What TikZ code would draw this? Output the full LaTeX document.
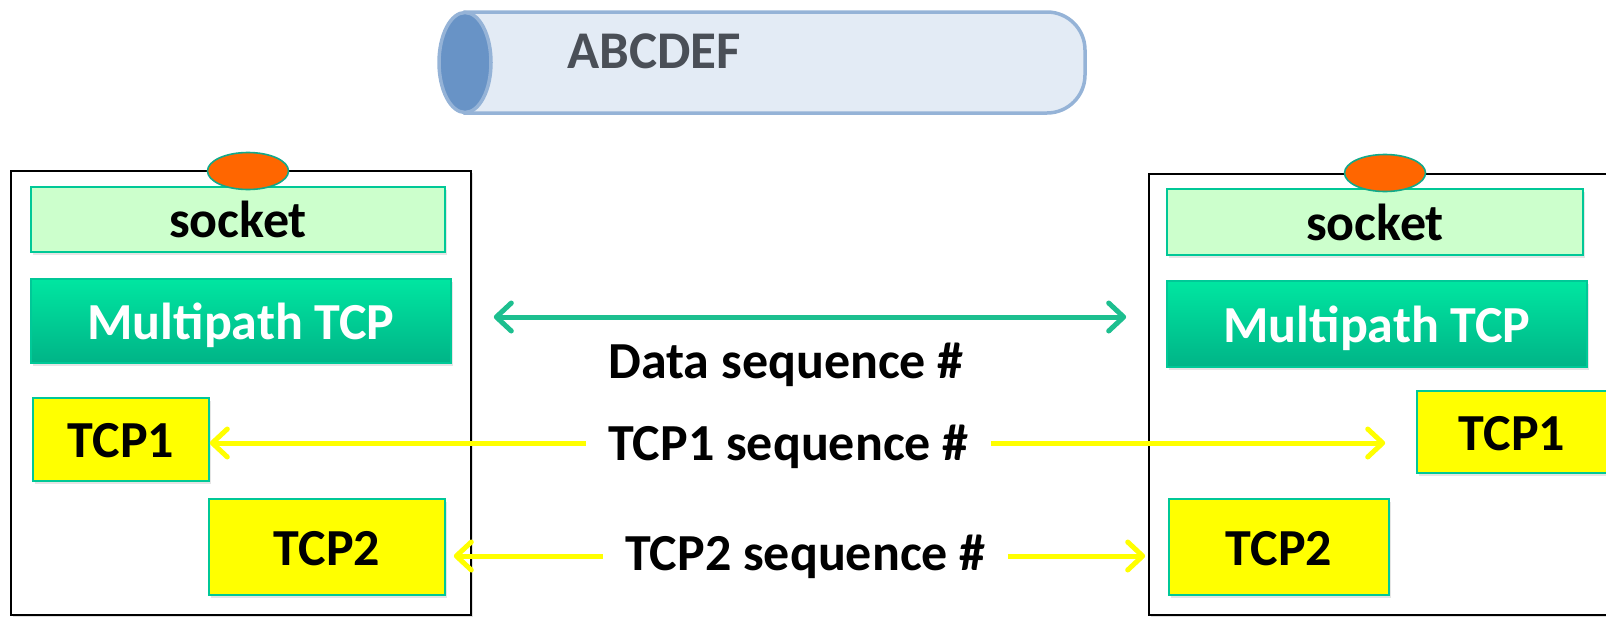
\documentclass[tikz,border=0pt]{standalone}
\usepackage{fontspec}
\setmainfont{Carlito}
\usetikzlibrary{arrows.meta,shadows,shapes.geometric}
\definecolor{tealB}{HTML}{00C897}
\definecolor{sockFill}{HTML}{CCFFCC}
\definecolor{mpTop}{HTML}{00E6A1}
\definecolor{mpBot}{HTML}{00B487}
\definecolor{yel}{HTML}{FFFF00}
\definecolor{portO}{HTML}{FF6600}
\definecolor{portB}{HTML}{12A98A}
\definecolor{grn}{HTML}{1DBF8F}
\definecolor{cylBody}{HTML}{E3EBF5}
\definecolor{cylLine}{HTML}{95B3D7}
\definecolor{cylFace}{HTML}{6893C6}
\definecolor{abcCol}{HTML}{4A4F57}
\begin{document}
\begin{tikzpicture}[x=1pt,y=-1pt,
  bigfont/.style={font=\fontsize{52}{60}\selectfont\bfseries},
  hostbox/.style={rectangle, draw=black, line width=1.8pt, fill=white, inner sep=0pt,
    drop shadow={shadow xshift=2pt,shadow yshift=-2pt,opacity=0.25}},
  stackbox/.style={rectangle, draw=tealB, line width=1.6pt, inner sep=0pt,
    text height=36pt, text depth=0pt, bigfont,
    drop shadow={shadow xshift=2pt,shadow yshift=-3pt,opacity=0.2}},
  sockbox/.style={stackbox, fill=sockFill},
  mpbox/.style={stackbox, top color=mpTop, bottom color=mpBot, text=white},
  tcpbox/.style={stackbox, fill=yel},
  portdot/.style={ellipse, draw=portB, line width=1.6pt, fill=portO, inner sep=0pt},
  seqlbl/.style={bigfont, inner ysep=0pt, inner xsep=22pt, anchor=base},
  barb/.tip={Straight Barb[length=15pt,width=28pt,round]},
  yarrow/.style={draw=yel, line width=5pt, -barb},
  garrow/.style={draw=grn, line width=5pt, barb-barb},
]
\useasboundingbox (0,0) rectangle (1606,616);
\clip (0,0) rectangle (1606,616);

% pipe
\path[draw=cylLine, line width=3.5pt, fill=cylBody]
  (465,12) -- (1047,12) .. controls (1068,12) and (1085,29) .. (1085,50)
  -- (1085,75) .. controls (1085,96) and (1068,113) .. (1047,113) -- (465,113) -- cycle;
\node[ellipse, draw=cylLine, line width=3.5pt, fill=cylFace, minimum width=52pt,
  minimum height=100pt, inner sep=0pt] (face) at (465,62.5) {};
\node[font=\fontsize{53}{60}\selectfont\bfseries, text=abcCol, anchor=base, inner sep=0pt] (pipe) at (654,68) {ABCDEF};

% hosts
\node[hostbox, minimum width=460pt, minimum height=444pt] (hostL) at (241,393) {};
\node[hostbox, minimum width=480pt, minimum height=441pt] (hostR) at (1389,394.5) {};

% left stack
\node[sockbox, minimum width=414pt, minimum height=65pt] (sockL) at (238,219.5) {socket};
\node[mpbox, minimum width=420pt, minimum height=84pt] (mpL) at (241,321) {Multipath TCP};
\node[tcpbox, minimum width=176pt, minimum height=83pt] (t1L) at (121,439.5) {TCP1};
\node[tcpbox, minimum width=236pt, minimum height=96pt] (t2L) at (327,547) {TCP2};
\node[portdot, minimum width=81pt, minimum height=37pt] (portL) at (248,171) {};

% right stack
\node[sockbox, minimum width=416pt, minimum height=66pt] (sockR) at (1375,222) {socket};
\node[mpbox, minimum width=420pt, minimum height=86pt] (mpR) at (1377,324) {Multipath TCP};
\node[tcpbox, minimum width=190pt, minimum height=82pt] (t1R) at (1512,432) {TCP1};
\node[tcpbox, minimum width=220pt, minimum height=96pt] (t2R) at (1279,547) {TCP2};
\node[portdot, minimum width=81pt, minimum height=37pt] (portR) at (1385,173) {};

% labels
\node[seqlbl] (dseq) at (786,378) {Data sequence \#};
\node[seqlbl, text height=34pt, text depth=0pt] (t1seq) at (788.5,460) {TCP1 sequence \#};
\node[seqlbl, text height=34pt, text depth=6pt] (t2seq) at (805.5,570) {TCP2 sequence \#};

% connectors
\draw[garrow, shorten <=42pt, shorten >=40pt] ([yshift=4pt]mpL.east) -- ([yshift=4pt]mpL.east -| mpR.west);
\draw[yarrow] (t1seq.west) -- (t1seq.west -| t1L.east);
\draw[yarrow, shorten >=31pt] (t1seq.east) -- (t1seq.east -| t1R.west);
\draw[yarrow, shorten >=8pt] (t2seq.west) -- (t2seq.west -| t2L.east);
\draw[yarrow, shorten >=23pt] (t2seq.east) -- (t2seq.east -| t2R.west);
\end{tikzpicture}
\end{document}
